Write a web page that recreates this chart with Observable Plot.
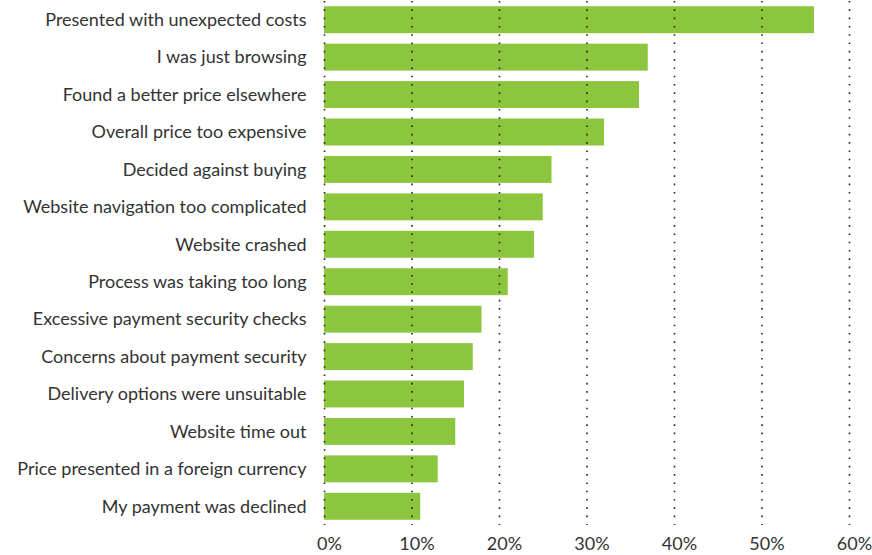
<!DOCTYPE html>
<html>
<head>
<meta charset="utf-8">
<script src="https://cdn.jsdelivr.net/npm/d3@7"></script>
<script src="https://cdn.jsdelivr.net/npm/@observablehq/plot@0.6"></script>
<style>
  html, body { margin: 0; padding: 0; background: #fff; }
  #chart svg { display: block; }
</style>
</head>
<body>
<div id="chart"></div>
<script>
const categories = [
  "Presented with unexpected costs",
  "I was just browsing",
  "Found a better price elsewhere",
  "Overall price too expensive",
  "Decided against buying",
  "Website navigation too complicated",
  "Website crashed",
  "Process was taking too long",
  "Excessive payment security checks",
  "Concerns about payment security",
  "Delivery options were unsuitable",
  "Website time out",
  "Price presented in a foreign currency",
  "My payment was declined"
];
const values = [56, 37, 36, 32, 26, 25, 24, 21, 18, 17, 16, 15, 13, 11];
const xTicks = [0, 10, 20, 30, 40, 50, 60];

const data = categories.map((c, i) => ({category: c, value: values[i]}));

const chart = Plot.plot({
  width: 872,
  height: 555,
  marginLeft: 324,
  marginRight: 23,
  marginTop: 1,
  marginBottom: 30,
  style: {fontFamily: "Lato, 'Open Sans', sans-serif", fontSize: "18px", color: "#333"},
  x: {domain: [0, 60], ticks: xTicks, label: null, tickFormat: d => d + "%"},
  y: {domain: categories, paddingInner: 0.28, paddingOuter: 0.14, round: false, label: null},
  marks: [
    Plot.barX(data, {x: "value", y: "category", fill: "#8cc63f"}),
    Plot.ruleX(xTicks, {stroke: "#222", strokeWidth: 1.6, strokeDasharray: "1.6,6.7", strokeLinecap: "butt"}),
    Plot.axisY({tickSize: 0, tickPadding: 18, fontSize: 18, fill: "#333", label: null}),
    Plot.axisX({ticks: xTicks, tickSize: 0, tickPadding: 12, dx: 5, fontSize: 18, fill: "#333", label: null, tickFormat: d => d + "%"})
  ]
});
document.getElementById("chart").appendChild(chart);
</script>
</body>
</html>
